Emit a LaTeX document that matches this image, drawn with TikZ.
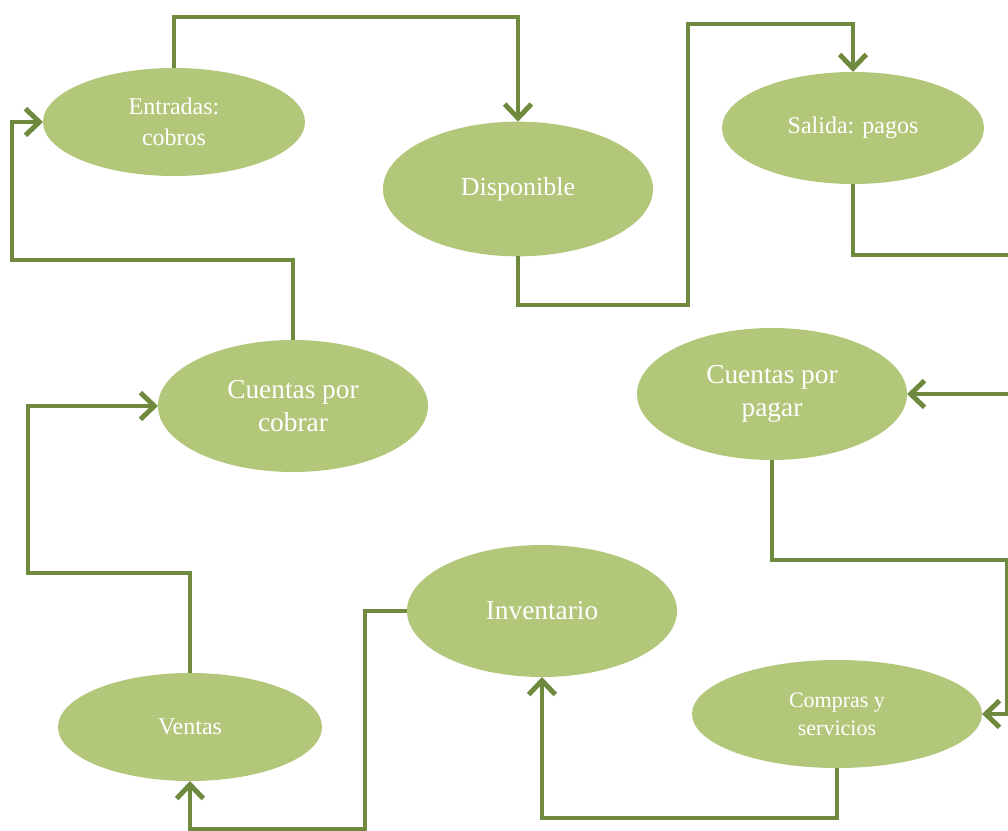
\documentclass[tikz,border=0pt]{standalone}
\usepackage{fontspec}
\setmainfont{Liberation Serif}
\usetikzlibrary{arrows.meta,shapes.geometric}
\definecolor{fillg}{HTML}{B3C77B}
\definecolor{lineg}{HTML}{6F8A3E}
\tikzset{
  bubble/.style={ellipse, fill=fillg, draw=none, inner sep=0pt, outer sep=0pt,
    text=white, align=center},
  conn/.style={draw=lineg, line width=3.7pt, line join=miter},
  arr/.style={conn, -{Straight Barb[length=10.5pt,width=20pt]}}
}
\begin{document}
\begin{tikzpicture}[x=0.75pt,y=-0.75pt]
\useasboundingbox (0,0) rectangle (1008,831);
\node[bubble, minimum width=196.5pt, minimum height=81pt, font=\fontsize{18}{23}\selectfont] (ent) at (174,122) {Entradas:\\cobros};
\node[bubble, minimum width=202.5pt, minimum height=101pt, font=\fontsize{19.5}{23}\selectfont] (disp) at (518,189) {Disponible};
\node[bubble, minimum width=196.5pt, minimum height=84pt, font=\fontsize{18}{23}\selectfont] (sal) at (853,128) {Salida: pagos};
\node[bubble, minimum width=202.5pt, minimum height=99pt, font=\fontsize{20.5}{25}\selectfont] (cxc) at (293,406) {Cuentas por\\cobrar};
\node[bubble, minimum width=202.5pt, minimum height=99pt, font=\fontsize{20.5}{25}\selectfont] (cxp) at (772,394) {Cuentas por\\pagar};
\node[bubble, minimum width=202.5pt, minimum height=99pt, font=\fontsize{20.5}{24}\selectfont] (inv) at (542,611) {Inventario};
\node[bubble, minimum width=198pt, minimum height=81pt, font=\fontsize{18}{23}\selectfont] (vent) at (190,727) {Ventas};
\node[bubble, minimum width=217.5pt, minimum height=81pt, font=\fontsize{16.5}{21}\selectfont] (comp) at (837,714) {Compras y\\servicios};

\coordinate (saout) at (1010,255);
\coordinate (cpin) at (1010,394);

\draw[arr] (ent.north) |- (disp.north |- 0,17) -- (disp.north);
\draw[arr] (cxc.north) |- (12,260) |- (ent.west);
\draw[arr] (disp.south) |- (688,305) -- (688,24) -| (sal.north);
\draw[conn] (sal.south) |- (saout);
\draw[arr] (cpin) -- (cxp.east);
\draw[arr] (cxp.south) |- (1007,560) |- (comp.east);
\draw[arr] (comp.south) |- (inv.south |- 0,818) -- (inv.south);
\draw[arr] (inv.west) -| (365,829) -| (vent.south);
\draw[arr] (vent.north) |- (28,573) |- (cxc.west);
\end{tikzpicture}
\end{document}
